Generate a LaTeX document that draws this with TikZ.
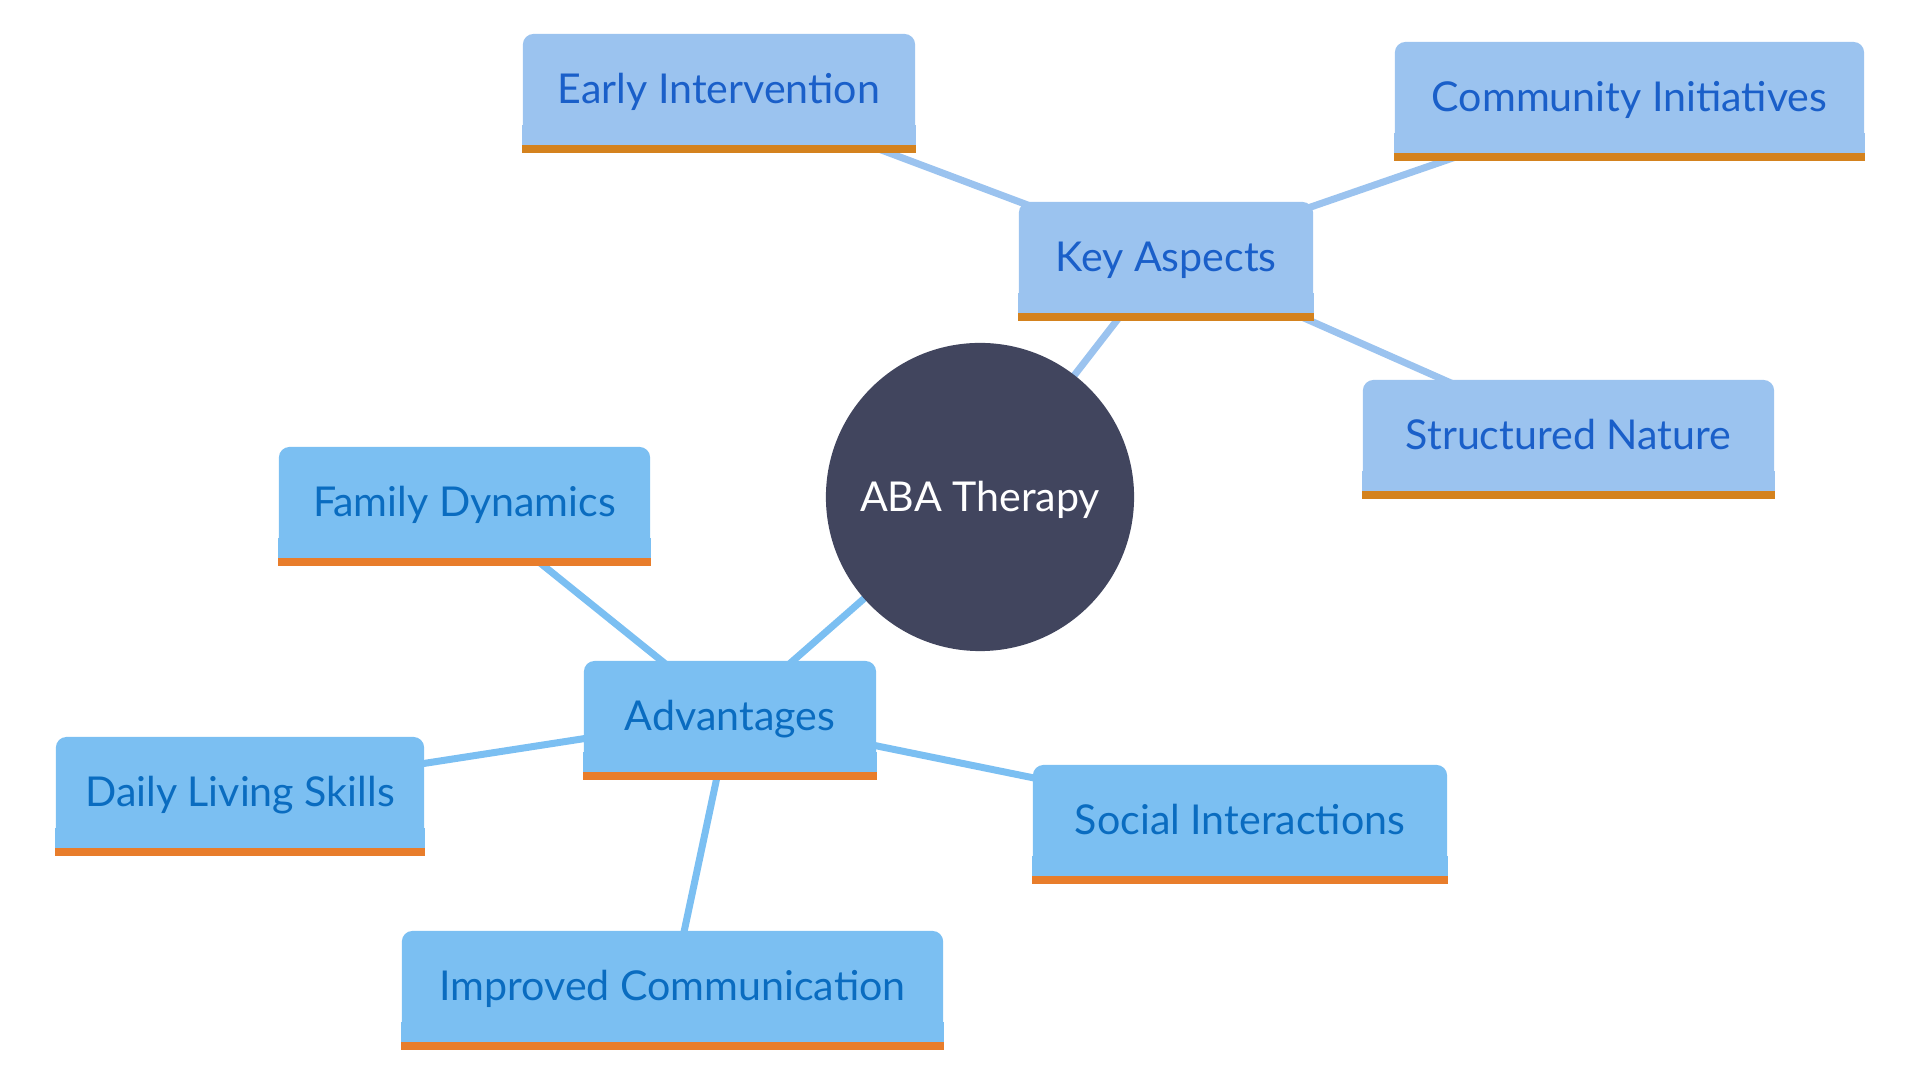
\documentclass[tikz,border=0pt]{standalone}
\usepackage{fontspec}
\setmainfont{Lato}
\usetikzlibrary{backgrounds}
\definecolor{keyfill}{HTML}{9BC3EF}
\definecolor{keytext}{HTML}{1A5FC9}
\definecolor{keyorange}{HTML}{D4821E}
\definecolor{advfill}{HTML}{7BBFF2}
\definecolor{advtext}{HTML}{0A6CC0}
\definecolor{advorange}{HTML}{E87D2B}
\definecolor{abafill}{HTML}{41455E}
\begin{document}
\begin{tikzpicture}[x=0.01cm, y=-0.01cm,
keynode/.style={rectangle, fill=keyfill, rounded corners=3pt, minimum height=1.1cm, inner sep=0pt, text height=8.4pt, text depth=0pt, text=keytext, font=\fontsize{11.7}{14}\selectfont},
advnode/.style={rectangle, fill=advfill, rounded corners=3pt, minimum height=1.1cm, inner sep=0pt, text height=8.4pt, text depth=0pt, text=advtext, font=\fontsize{11.7}{14}\selectfont},
keyline/.style={draw=keyfill, line width=0.07cm},
advline/.style={draw=advfill, line width=0.07cm},]

\useasboundingbox (0,0) rectangle (1920,1080);

\node (aba) [circle, fill=abafill, minimum size=3.08cm, inner sep=0pt, text height=8.4pt, text depth=0pt, text=white, font=\fontsize{11.7}{14}\selectfont] at (980, 497) {ABA Therapy};

\node (key) [keynode, minimum width=2.94cm] at (1166, 257) {Key Aspects};
\node (early) [keynode, minimum width=3.92cm] at (719, 89) {Early Intervention};
\node (community) [keynode, minimum width=4.69cm] at (1629.5, 97) {Community Initiatives};
\node (structured) [keynode, minimum width=4.11cm] at (1568.5, 435) {Structured Nature};

\node (adv) [advnode, minimum width=2.92cm] at (730, 716) {Advantages};
\node (family) [advnode, minimum width=3.71cm] at (464.5, 502) {Family Dynamics};
\node (daily) [advnode, minimum width=3.68cm] at (240, 792) {Daily Living Skills};
\node (social) [advnode, minimum width=4.14cm] at (1240, 820) {Social Interactions};
\node (improved) [advnode, minimum width=5.41cm] at (672.5, 986) {Improved Communication};

\foreach \n in {key, early, community, structured}
{
\fill[keyfill] ([yshift=0.2cm]\n.south west) rectangle (\n.south east);
\fill[keyorange] (\n.south west) rectangle ([yshift=-0.08cm]\n.south east);
}
\foreach \n in {adv, family, daily, social, improved}
{
\fill[advfill] ([yshift=0.2cm]\n.south west) rectangle (\n.south east);
\fill[advorange] (\n.south west) rectangle ([yshift=-0.08cm]\n.south east);
}

\begin{scope}[on background layer]
\draw[keyline] (aba.center) -- (key.center);
\draw[keyline] (key.center) -- (early.center);
\draw[keyline] (key.center) -- (community.center);
\draw[keyline] (key.center) -- (structured.center);
\draw[advline] (aba.center) -- (adv.center);
\draw[advline] (adv.center) -- (family.center);
\draw[advline] (adv.center) -- (daily.center);
\draw[advline] (adv.center) -- (social.center);
\draw[advline] (adv.center) -- (improved.center);
\end{scope}

\end{tikzpicture}
\end{document}
